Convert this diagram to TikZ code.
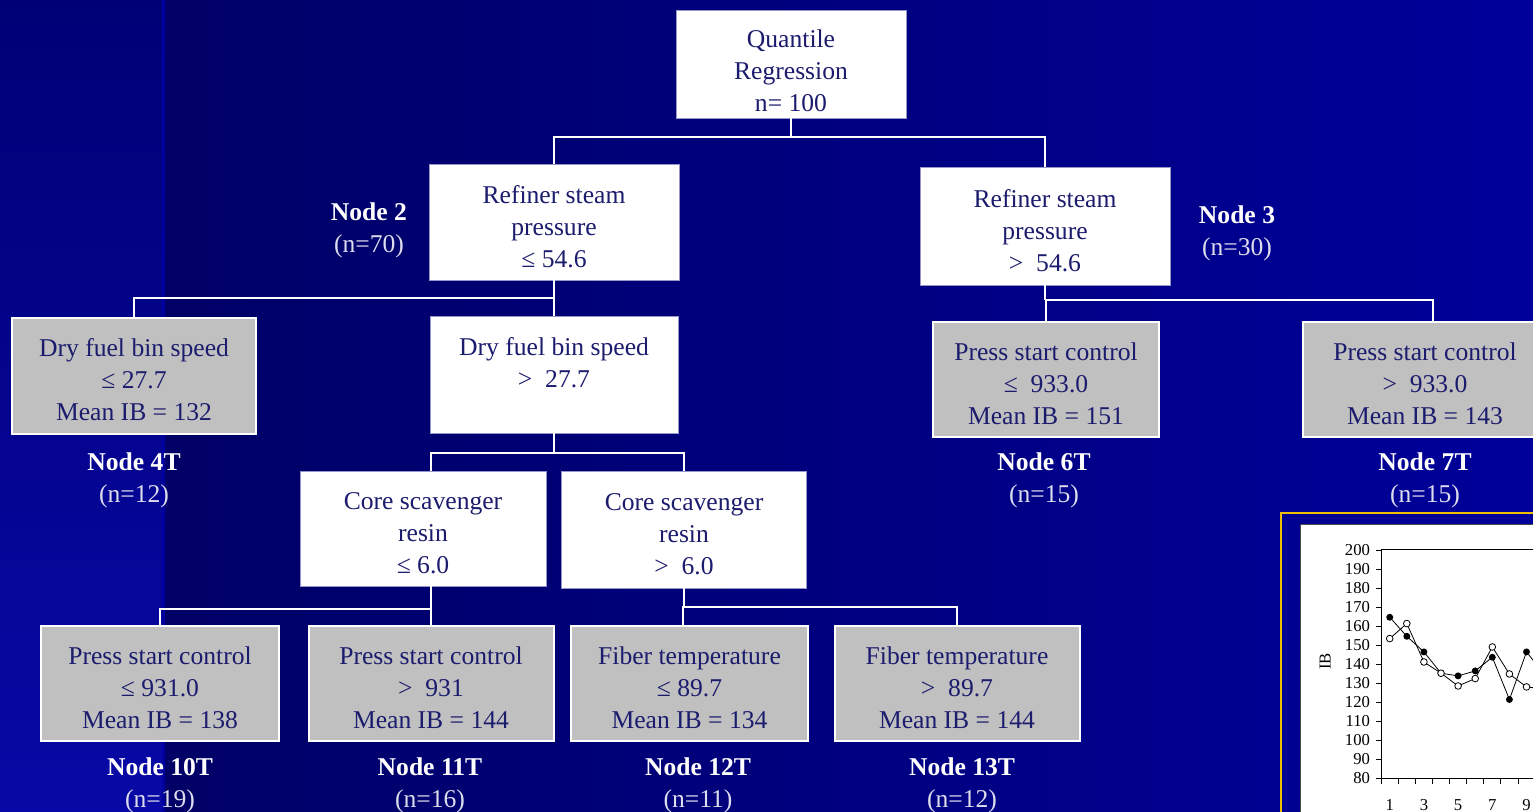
\documentclass[tikz,border=0pt]{standalone}
\usepackage{fontspec}
\setmainfont{Liberation Serif}

\definecolor{boxtext}{RGB}{28,28,110}
\definecolor{leafgray}{RGB}{192,192,192}
\definecolor{splitline}{RGB}{150,150,200}
\definecolor{tagsub}{RGB}{220,220,236}
\definecolor{frameyellow}{RGB}{240,192,0}
\definecolor{bgdark}{RGB}{0,0,102}
\definecolor{bglight}{RGB}{0,0,154}
\definecolor{bgstriptop}{RGB}{0,0,118}
\definecolor{bgstripbot}{RGB}{8,8,166}
\definecolor{bgedge}{RGB}{0,0,160}
\newcommand{\boxfont}{\fontsize{19.2}{24}\selectfont}
\newcommand{\tickfont}{\fontsize{12.5}{13}\selectfont}
\newcommand{\lowr}[1][20pt]{\rule{0pt}{#1}}

\tikzset{
  wire/.style={draw=white, line width=1.5pt},
  splitbox/.style={draw=splitline, line width=0.6pt, fill=white, text=boxtext, align=center, inner sep=0pt, font=\boxfont},
  leafbox/.style={draw=white, line width=1.5pt, fill=leafgray, text=boxtext, align=center, inner sep=0pt, minimum height=86.25pt, font=\boxfont},
  nodetag/.style={text=white, align=center, inner sep=0pt, font=\boxfont},
  ticklbl/.style={inner sep=0pt, font=\tickfont},
  series/.style={draw=black, line width=0.6pt}
}

\begin{document}
\begin{tikzpicture}[x=0.75pt,y=0.75pt,yscale=-1,xscale=1]
\useasboundingbox (0,0) rectangle (1533,812);
% background
\shade[left color=bgdark, right color=bglight] (162,0) rectangle (1533,812);
\shade[top color=bgstriptop, bottom color=bgstripbot] (0,0) rectangle (162,812);
\fill[bgedge] (162,0) rectangle (165,812);

% split boxes
\node[splitbox, minimum width=172.5pt, minimum height=81pt] (root) at (791,64) {\lowr[23.5pt]Quantile\\Regression\\n= 100};
\node[splitbox, minimum width=187.5pt, minimum height=87pt] (n2) at (554,222) {\lowr Refiner steam\\pressure\\≤ 54.6};
\node[splitbox, minimum width=187.5pt, minimum height=88.5pt] (n3) at (1045,226) {\lowr Refiner steam\\pressure\\>\ \ 54.6};
\node[splitbox, minimum width=186pt, minimum height=87.75pt] (n5) at (554,374.5) {\lowr[19pt]Dry fuel bin speed\\>\ \ 27.7\\\mbox{}};
\node[splitbox, minimum width=184.5pt, minimum height=86.25pt] (n8) at (423,528.5) {\lowr Core scavenger\\resin\\≤ 6.0};
\node[splitbox, minimum width=183.75pt, minimum height=87.75pt] (n9) at (684,529.5) {\lowr Core scavenger\\resin\\>\ \ 6.0};

% terminal boxes
\node[leafbox, minimum width=183pt] (n4) at (134,376) {\lowr[19.5pt]Dry fuel bin speed\\≤ 27.7\\Mean IB = 132};
\node[leafbox, minimum width=169.5pt] (n6) at (1046,379.5) {\lowr[19.5pt]Press start control\\≤\ \ 933.0\\Mean IB = 151};
\node[leafbox, minimum width=183pt] (n7) at (1425,379.5) {\lowr[19.5pt]Press start control\\>\ \ 933.0\\Mean IB = 143};
\node[leafbox, minimum width=178.5pt] (n10) at (160,683.5) {\lowr[19.5pt]Press start control\\≤ 931.0\\Mean IB = 138};
\node[leafbox, minimum width=183.75pt] (n11) at (431,683.5) {\lowr[19.5pt]Press start control\\>\ \ 931\\Mean IB = 144};
\node[leafbox, minimum width=177.75pt] (n12) at (689.5,683.5) {\lowr[19.5pt]Fiber temperature\\≤ 89.7\\Mean IB = 134};
\node[leafbox, minimum width=183.75pt] (n13) at (957,683.5) {\lowr[19.5pt]Fiber temperature\\>\ \ 89.7\\Mean IB = 144};

% node tags
\node[nodetag] (tag2) at (369,226.5) {\lowr[19pt]\textbf{Node 2}\\{\color{tagsub}(n=70)}};
\node[nodetag] (tag3) at (1237,229.5) {\lowr[19pt]\textbf{Node 3}\\{\color{tagsub}(n=30)}};
\node[nodetag] (tag4) at (134,477) {\lowr[19pt]\textbf{Node 4T}\\{\color{tagsub}(n=12)}};
\node[nodetag] (tag6) at (1044,477) {\lowr[19pt]\textbf{Node 6T}\\{\color{tagsub}(n=15)}};
\node[nodetag] (tag7) at (1425,477) {\lowr[19pt]\textbf{Node 7T}\\{\color{tagsub}(n=15)}};
\node[nodetag] (tag10) at (160,782) {\lowr[19pt]\textbf{Node 10T}\\{\color{tagsub}(n=19)}};
\node[nodetag] (tag11) at (430,782) {\lowr[19pt]\textbf{Node 11T}\\{\color{tagsub}(n=16)}};
\node[nodetag] (tag12) at (698,782) {\lowr[19pt]\textbf{Node 12T}\\{\color{tagsub}(n=11)}};
\node[nodetag] (tag13) at (962,782) {\lowr[19pt]\textbf{Node 13T}\\{\color{tagsub}(n=12)}};

% connectors
\coordinate (j1) at (791,137);
\coordinate (j2) at (554,298);
\coordinate (j3) at (1045,300);
\coordinate (j4) at (554,453);
\coordinate (j5) at (431,609);
\coordinate (j6) at (684,607);
\draw[wire] (root.south) -- (j1);
\draw[wire] (n2.north) |- (j1) -| (n3.north);
\draw[wire] (n2.south) -- (n5.north);
\draw[wire] (n4.north) |- (j2);
\draw[wire] (n3.south) -- (j3);
\draw[wire] (n6.north) |- (j3) -| ([xshift=6pt]n7.north);
\draw[wire] (n5.south) -- (j4);
\draw[wire] ([xshift=6pt]n8.north) |- (j4) -| (n9.north);
\draw[wire] ([xshift=6pt]n8.south) -- (j5);
\draw[wire] (n10.north) |- (j5) -| (n11.north);
\draw[wire] (n9.south) -- (j6);
\draw[wire] ([xshift=-5pt]n12.north) |- (j6) -| (n13.north);

% inset chart
\draw[draw=frameyellow, line width=1.5pt] (1281,513) rectangle (1580,840);
\filldraw[fill=white, draw=gray!60!black, line width=0.6pt] (1300,524) rectangle (1580,840);
\begin{scope}[shift={(1372.6,930.5)}, x=12.825pt, y=-1.42725pt]
\draw[line width=0.7pt] (0.5,80) rectangle (12,200);
\foreach \v in {80,90,...,200} {
  \draw[line width=0.6pt] (0.5,\v) -- ++(-4pt,0);
  \node[ticklbl, anchor=east] at (-0.14,\v) {\v};
}
\foreach \i in {0,...,10} \draw[line width=0.6pt] (\i+0.5,80) -- ++(0,4pt);
\foreach \i in {1,3,5,7,9} \node[ticklbl] at (\i,65.8) {\i};
\node[ticklbl, rotate=90] at (-2.78,141.3) {IB};
\draw[series] plot coordinates {(1,164.6) (2,154.6) (3,146.4) (4,135.2) (5,133.8) (6,136.4) (7,143.6) (8,121.4) (9,146.4) (10,135)};
\draw[series] plot coordinates {(1,153.4) (2,161.3) (3,141.1) (4,135.2) (5,128.5) (6,132.4) (7,149) (8,134.8) (9,128) (10,127)};
\foreach \i/\v in {1/164.6,2/154.6,3/146.4,4/135.2,5/133.8,6/136.4,7/143.6,8/121.4,9/146.4,10/135}
  \fill (\i,\v) circle (2.6pt);
\foreach \i/\v in {1/153.4,2/161.3,3/141.1,4/135.2,5/128.5,6/132.4,7/149,8/134.8,9/128,10/127}
  \filldraw[fill=white, draw=black, line width=0.6pt] (\i,\v) circle (2.5pt);
\end{scope}
\end{tikzpicture}
\end{document}
